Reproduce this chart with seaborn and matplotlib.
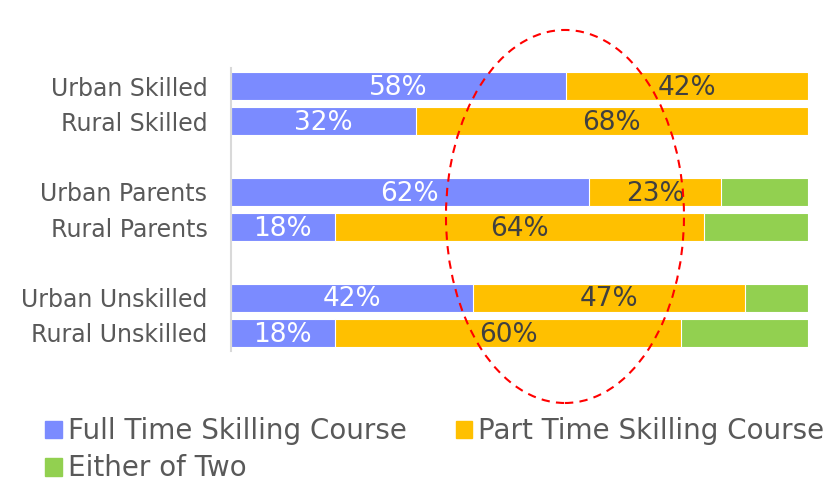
import numpy as np
import pandas as pd
import seaborn as sns
import matplotlib.pyplot as plt
from matplotlib.patches import Ellipse, Patch

# -------------------- Data --------------------
groups = ['Urban Skilled', 'Rural Skilled', 'Urban Parents', 'Rural Parents',
          'Urban Unskilled', 'Rural Unskilled']
full_time = [58, 32, 62, 18, 42, 18]
part_time = [42, 68, 23, 64, 47, 60]
either = [0, 0, 15, 18, 11, 22]
series_names = ['Full Time Skilling Course', 'Part Time Skilling Course', 'Either of Two']

# blank slots give the gaps between the pairs
order = ['Urban Skilled', 'Rural Skilled', ' ', 'Urban Parents', 'Rural Parents',
         '  ', 'Urban Unskilled', 'Rural Unskilled']

df = pd.DataFrame({'group': groups, 'full': full_time, 'part': part_time, 'either': either})
df['cum_part'] = df['full'] + df['part']
df['cum_all'] = df['cum_part'] + df['either']

blue = '#7b8bff'
orange = '#ffc000'
green = '#92d050'

sns.set_style('white')
plt.rcParams['font.family'] = ['DejaVu Sans']

fig = plt.figure(figsize=(8.36, 4.83), dpi=100)
ax = fig.add_axes([0.2763, 0.2741, 0.6902, 0.5843])

# stacked bars: draw totals first, then overlay the shorter pieces
for col, color in [('cum_all', green), ('cum_part', orange), ('full', blue)]:
    sns.barplot(data=df, x=col, y='group', order=order, color=color, saturation=1,
                width=0.79, edgecolor='white', linewidth=0.8, ax=ax)

ax.set_xlim(0, 100)
ax.set_ylim(7.5, -0.5)
ax.set_xlabel('')
ax.set_ylabel('')
ax.set_xticks([])
ax.tick_params(axis='y', length=0, labelsize=17, labelcolor='#595959', pad=17)
for s in ['top', 'right', 'bottom']:
    ax.spines[s].set_visible(False)
ax.spines['left'].set_color('#d9d9d9')
ax.spines['left'].set_linewidth(1.5)

# data labels
pos = {g: order.index(g) for g in groups}
for _, r in df.iterrows():
    y = pos[r['group']]
    ax.text(r['full'] / 2, y + 0.05, f"{r['full']}%", ha='center', va='center',
            color='white', fontsize=19)
    ax.text(r['full'] + r['part'] / 2, y + 0.05, f"{r['part']}%", ha='center', va='center',
            color='#404040', fontsize=19)

# legend (column-major fill, so reorder to read row by row)
colors = [blue, orange, green]
idx = [0, 2, 1]
handles = [Patch(color=colors[i]) for i in idx]
labels = [series_names[i] for i in idx]
fig.legend(handles, labels, loc='upper left', bbox_to_anchor=(0.041, 0.159),
           ncol=2, frameon=False, fontsize=20, labelcolor='#595959',
           handlelength=0.6, handleheight=0.6, handletextpad=0.22,
           columnspacing=1.75, labelspacing=0.33, borderaxespad=0)

# highlight ellipse
ell = Ellipse((0.6758, 0.5518), 0.2847, 0.7723, transform=fig.transFigure,
              fill=False, edgecolor='red', linestyle=(0, (4, 3)), linewidth=1.5,
              clip_on=False)
fig.patches.append(ell)

fig.savefig('out.png', dpi=100)
